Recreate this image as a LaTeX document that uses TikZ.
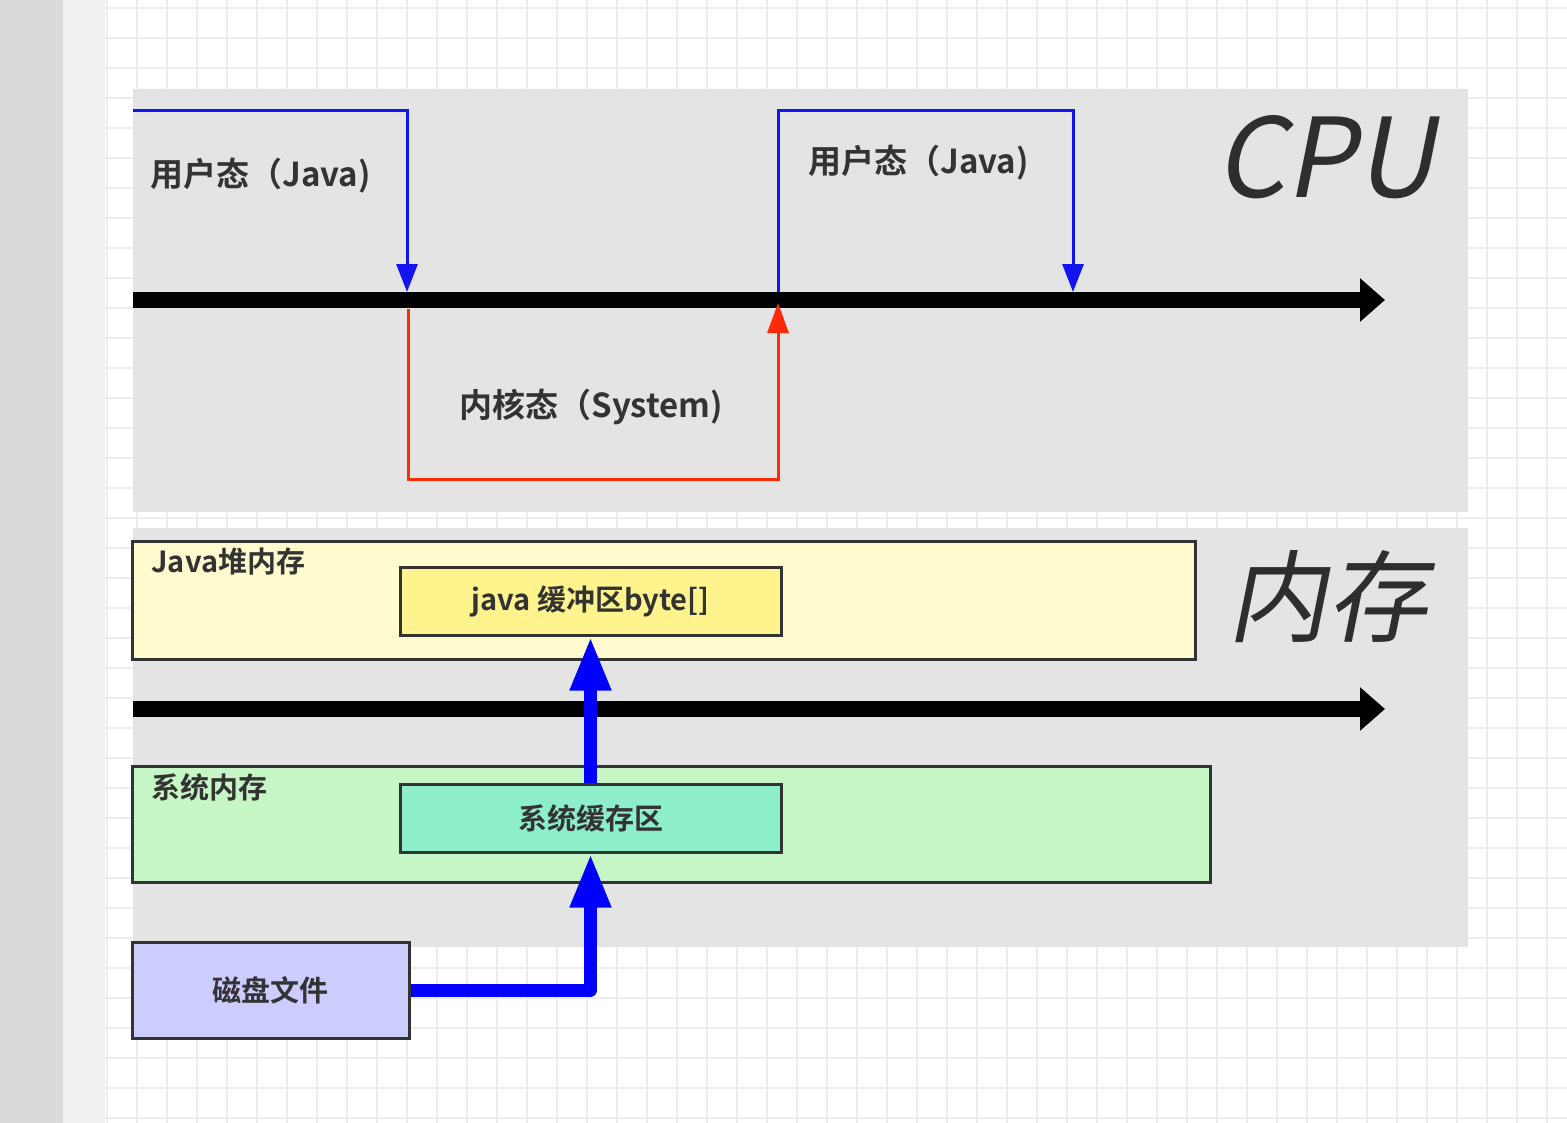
\documentclass[tikz,border=0pt]{standalone}
\usepackage{fontspec}
\setmainfont{Noto Sans CJK SC}[BoldFont={Noto Sans CJK SC Bold}]
\newfontfamily\slfont{Noto Sans CJK SC}[FakeSlant=0.2]
\usetikzlibrary{arrows.meta}
\definecolor{stripA}{HTML}{DADADA}
\definecolor{stripB}{HTML}{F1F1F1}
\definecolor{gridc}{HTML}{EDEDED}
\definecolor{panelc}{HTML}{E4E4E4}
\definecolor{txt}{HTML}{333333}
\definecolor{boxline}{HTML}{333333}
\definecolor{heapfill}{HTML}{FFFBCF}
\definecolor{jbuffill}{HTML}{FFF38E}
\definecolor{sysfill}{HTML}{C7F6C6}
\definecolor{sbuffill}{HTML}{8DEFC9}
\definecolor{diskfill}{HTML}{CCCCFF}
\definecolor{tblue}{HTML}{1414EE}
\definecolor{tred}{HTML}{FF2A0A}
\definecolor{kblue}{HTML}{0000FF}
\tikzset{
  panel/.style={fill=panelc, draw=none, inner sep=0pt},
  box/.style={draw=boxline, line width=1.5pt, inner sep=0pt, text=txt,
    font=\bfseries\fontsize{14.5}{16}\selectfont},
  lbl/.style={inner sep=0pt, text=txt, font=\bfseries\fontsize{14.5}{16}\selectfont},
  biglbl/.style={inner sep=0pt, text=txt, font=\bfseries\fontsize{16.5}{18}\selectfont},
  title/.style={inner sep=0pt, text=txt!90!black, font=\slfont\fontsize{55}{58}\selectfont},
  titlecjk/.style={inner sep=0pt, text=txt!90!black, font=\slfont\fontsize{50}{54}\selectfont},
  axisline/.style={line width=8pt, -{Triangle[length=12.5pt,width=21pt]}},
  bluethin/.style={draw=tblue, line width=1.5pt, -{Triangle[length=14pt,width=10.5pt]}, fill=none},
  redthin/.style={draw=tred, line width=1.5pt, -{Triangle[length=15pt,width=10.5pt]}},
  bluethick/.style={draw=kblue, line width=6.5pt, line join=round, -{Triangle[length=27pt,width=19pt]}},
}
\begin{document}
\begin{tikzpicture}[x=0.5pt, y=-0.5pt]
\useasboundingbox (0,0) rectangle (1567,1123);
% background
\fill[white] (0,0) rectangle (1567,1123);
\fill[stripA] (0,0) rectangle (63,1123);
\fill[stripB] (63,0) rectangle (105,1123);
\foreach \x in {107,137,...,1567} \draw[gridc, line width=0.6pt] (\x,0) -- (\x,1123);
\foreach \y in {8,38,...,1123} \draw[gridc, line width=0.6pt] (105,\y) -- (1567,\y);
% panels
\node[panel, minimum width=667.5pt, minimum height=211.5pt] (cpup) at (800.5,300.5) {};
\node[panel, minimum width=667.5pt, minimum height=209.5pt] (memp) at (800.5,737.5) {};
% CPU axis
\coordinate (a1s) at (133,300);
\coordinate (a1e) at (1385,300);
\draw[axisline] (a1s) -- (a1e);
% state lines
\coordinate (b1s) at (133,111);
\coordinate (b1e) at (407,292);
\draw[bluethin] (b1s) -| (b1e);
\coordinate (r1s) at (408,309);
\coordinate (r1a) at (408,479);
\coordinate (r1b) at (778,479);
\coordinate (r1e) at (778,303);
\draw[redthin] (r1s) -- (r1a) -- (r1b) -- (r1e);
\coordinate (b2s) at (778,292);
\coordinate (b2a) at (778,111);
\coordinate (b2e) at (1073,292);
\draw[bluethin] (b2s) -- (b2a) -| (b2e);
% CPU labels
\node[biglbl, anchor=west] (u1) at (150,176) {用户态（Java)};
\node[biglbl, anchor=west] (u2) at (808,163) {用户态（Java)};
\node[biglbl, anchor=west] (ks) at (459,407) {内核态（System)};
\node[title] (cpu) at (1325,157) {CPU};
% memory
\node[box, fill=heapfill, minimum width=531.5pt, minimum height=59pt] (heap) at (663.5,600) {};
\node[lbl, anchor=west] (heapl) at (151,562) {Java堆内存};
\node[box, fill=jbuffill, minimum width=190.5pt, minimum height=34pt] (jbuf) at (590.5,601) {java 缓冲区byte[]};
\coordinate (a2s) at (133,709);
\coordinate (a2e) at (1385,709);
\draw[axisline] (a2s) -- (a2e);
\node[box, fill=sysfill, minimum width=539pt, minimum height=58pt] (sysmem) at (671,824) {};
\node[lbl, anchor=west] (sysl) at (151,787) {系统内存};
\node[box, fill=sbuffill, minimum width=190.5pt, minimum height=34pt] (sbuf) at (590.5,818) {系统缓存区};
\node[box, fill=diskfill, minimum width=138.5pt, minimum height=48pt] (disk) at (270.5,990) {磁盘文件};
\node[titlecjk] (mem) at (1327,597) {内存};
% data flow
\draw[bluethick] (disk.east) -| (sbuf.south);
\draw[bluethick] (sbuf.north) -- (jbuf.south);
\end{tikzpicture}
\end{document}
